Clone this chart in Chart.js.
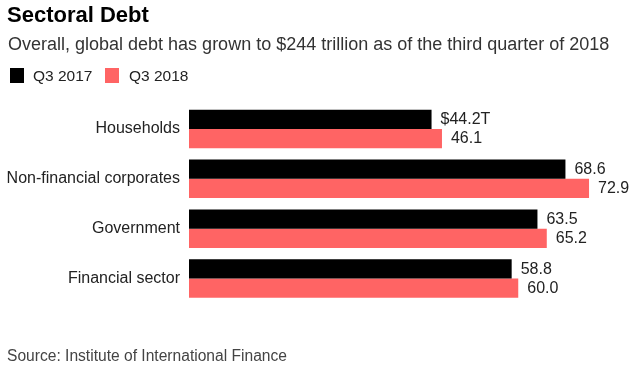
<!DOCTYPE html>
<html>
<head>
<meta charset="utf-8">
<script src="https://cdn.jsdelivr.net/npm/chart.js@4"></script>
<style>
  html, body { margin: 0; padding: 0; background: #fff; }
  body { width: 640px; height: 386px; position: relative; overflow: hidden; font-family: "Liberation Sans", Arial, sans-serif; color: #1a1a1a; }
  #wrap { position: absolute; left: 0; top: 0; width: 640px; height: 386px; }
  .t { position: absolute; white-space: nowrap; }
  #title { left: 7px; top: 4.4px; font-size: 22px; line-height: 22px; font-weight: bold; color: #000; }
  #subtitle { left: 8px; top: 34.8px; font-size: 18px; line-height: 18px; color: #333; }
  .leg { position: absolute; top: 67.8px; font-size: 15.5px; line-height: 15.5px; color: #222; }
  .sw { position: absolute; width: 14px; height: 15px; top: 68px; }
  #source { left: 7px; top: 347.8px; font-size: 15.6px; line-height: 15.6px; color: #444; }
</style>
</head>
<body>
<div id="wrap"><canvas id="c" width="640" height="386"></canvas></div>
<div class="t" id="title">Sectoral Debt</div>
<div class="t" id="subtitle">Overall, global debt has grown to $244 trillion as of the third quarter of 2018</div>
<div class="sw" style="left:10px;background:#000"></div>
<div class="leg" style="left:33px">Q3 2017</div>
<div class="sw" style="left:104.5px;background:#ff6464"></div>
<div class="leg" style="left:129px">Q3 2018</div>
<div class="t" id="source">Source: Institute of International Finance</div>
<script>
const categories = ["Households", "Non-financial corporates", "Government", "Financial sector"];
const seriesNames = ["Q3 2017", "Q3 2018"];
const q3_2017 = [44.2, 68.6, 63.5, 58.8];
const q3_2018 = [46.1, 72.9, 65.2, 60.0];
const colors = ["#000000", "#ff6464"];

const valueLabels = {
  id: 'valueLabels',
  afterDatasetsDraw(chart) {
    const ctx = chart.ctx;
    ctx.save();
    ctx.font = '16px "Liberation Sans", Arial, sans-serif';
    ctx.fillStyle = '#222';
    ctx.textAlign = 'left';
    ctx.textBaseline = 'middle';
    chart.data.datasets.forEach((ds, di) => {
      const meta = chart.getDatasetMeta(di);
      meta.data.forEach((bar, i) => {
        const v = ds.data[i];
        const txt = (di === 0 && i === 0) ? '$' + v.toFixed(1) + 'T' : v.toFixed(1);
        ctx.fillText(txt, bar.x + 9, bar.y + 0.5);
      });
    });
    ctx.restore();
  }
};

new Chart(document.getElementById('c'), {
  type: 'bar',
  data: {
    labels: categories,
    datasets: [
      { label: seriesNames[0], data: q3_2017, backgroundColor: colors[0], categoryPercentage: 0.77, barPercentage: 1.0 },
      { label: seriesNames[1], data: q3_2018, backgroundColor: colors[1], categoryPercentage: 0.77, barPercentage: 1.0 }
    ]
  },
  options: {
    indexAxis: 'y',
    responsive: false,
    animation: false,
    events: [],
    layout: { padding: { left: 0, right: 12, top: 104, bottom: 82.5 } },
    plugins: { legend: { display: false }, tooltip: { enabled: false }, title: { display: false } },
    scales: {
      x: { display: false, min: 0, max: 80 },
      y: {
        grid: { display: false, drawTicks: false },
        border: { display: false },
        ticks: { padding: 9, color: '#222', font: { family: '"Liberation Sans", Arial, sans-serif', size: 16 } },
        afterFit(s) { s.width = 189; }
      }
    }
  },
  plugins: [valueLabels]
});
</script>
</body>
</html>
